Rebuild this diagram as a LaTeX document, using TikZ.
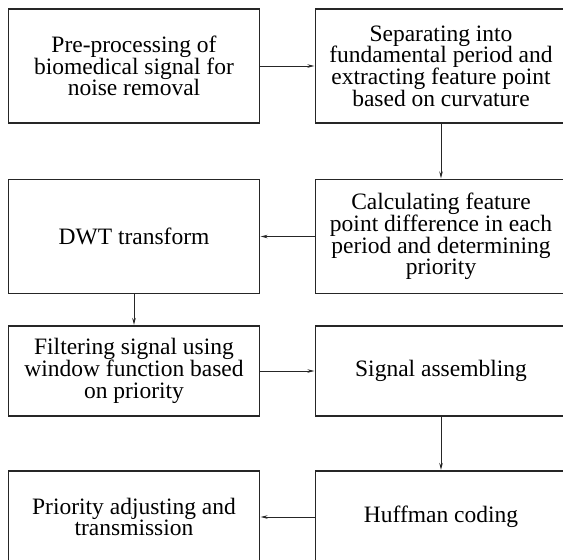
\documentclass[tikz,border=0pt]{standalone}
\usepackage{fontspec}
\setmainfont{Liberation Serif}
\usepackage{tikz}
\usetikzlibrary{arrows.meta}

\begin{document}
\begin{tikzpicture}[x=1pt,y=-1pt,
  blk/.style={draw=black!85,line width=1.1pt,inner sep=0pt,
              minimum width=251pt,align=center,
              font=\fontsize{23.5pt}{21.7pt}\selectfont},
  tall/.style={blk,minimum height=114pt},
  low/.style={blk,minimum height=90pt},
  arw/.style={-{Stealth[length=7pt,width=3.5pt]},draw=black!85,line width=0.9pt,shorten >=0.5pt},
]
\useasboundingbox (0,0) rectangle (563,560);
\clip (0,0) rectangle (563,560);
\node[tall] (pre) at (134,66) {Pre-processing of\\biomedical signal for\\noise removal};
\node[tall] (sep) at (441,66) {Separating into\\fundamental period and\\extracting feature point\\based on curvature};
\node[tall] (dwt) at (134,236.5) {DWT transform};
\node[tall] (calc) at (441,236.5) {Calculating feature\\point difference in each\\period and determining\\priority};
\node[low] (filt) at (134,371) {Filtering signal using\\window function based\\on priority};
\node[low] (asm) at (441,371) {Signal assembling};
\node[blk,minimum height=92pt] (prio) at (134,517) {Priority adjusting and\\transmission};
\node[blk,minimum height=92pt] (huff) at (441,517) {Huffman coding};
\foreach \a/\b in {pre/sep,sep/calc,calc/dwt,dwt/filt,filt/asm,asm/huff,huff/prio}
  \draw[arw] (\a) -- (\b);
\end{tikzpicture}
\end{document}
